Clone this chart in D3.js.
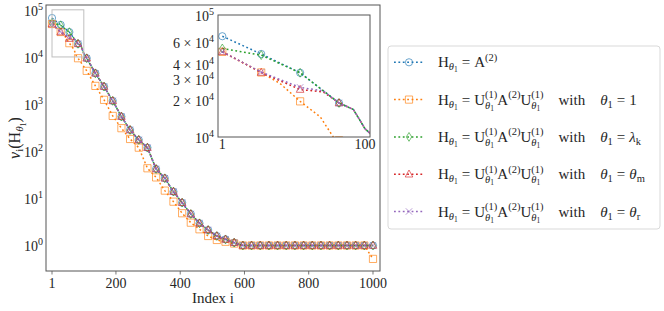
<!DOCTYPE html>
<html>
<head>
<meta charset="utf-8">
<script src="https://cdn.jsdelivr.net/npm/d3@7"></script>
<style>
  html, body { margin: 0; padding: 0; background: #fff; }
  svg text { font-family: "Liberation Serif", "DejaVu Serif", serif; fill: #262626; }
</style>
</head>
<body>
<svg id="chart" width="664" height="311"></svg>
<script>
// marker positions (every 27th index)
const markIdx = [1, 28, 55, 82, 109, 136, 163, 190, 217, 244, 271, 298, 325, 352, 379, 406, 433, 460, 487,
                 514, 541, 568, 595, 622, 649, 676, 703, 730, 757, 784, 811, 838, 865, 892, 919, 946, 973, 1000];

// values read at the marker positions
const blueVals   = [6.7e4, 4.79e4, 3.36e4, 1.9e4, 9.4e3, 4.5e3, 2.35e3, 1170, 543, 283, 174, 119, 42, 26.7, 13.9, 8.1, 4.66, 2.96, 2.13, 1.59, 1.35, 1.15,
                    1, 1, 1, 1, 1, 1, 1, 1, 1, 1, 1, 1, 1, 1, 1, 1];
const orangeVals = [4.99e4, 3.38e4, 1.96e4, 9.4e3, 5.07e3, 2.43e3, 1230, 561, 308, 182, 119, 43.5, 27.8, 14.6, 8.5, 4.83, 3.05, 2.21, 1.59, 1.31, 1.2, 1.1,
                    1, 1, 1, 1, 1, 1, 1, 1, 1, 1, 1, 1, 1, 1, 1, 0.52];
const greenVals  = [5.32e4, 4.69e4, 3.36e4, 1.9e4, 9.4e3, 4.5e3, 2.35e3, 1170, 543, 283, 174, 119, 42, 26.7, 13.9, 8.1, 4.66, 2.96, 2.13, 1.59, 1.35, 1.15,
                    1, 1, 1, 1, 1, 1, 1, 1, 1, 1, 1, 1, 1, 1, 1, 1];
const redVals    = [4.99e4, 3.38e4, 2.45e4, 1.9e4, 9.4e3, 4.5e3, 2.35e3, 1170, 543, 283, 174, 119, 42, 26.7, 13.9, 8.1, 4.66, 2.96, 2.13, 1.59, 1.35, 1.15,
                    1, 1, 1, 1, 1, 1, 1, 1, 1, 1, 1, 1, 1, 1, 1, 1];
const purpleVals = [5.0e4, 3.4e4, 2.55e4, 1.9e4, 9.4e3, 4.5e3, 2.35e3, 1170, 543, 283, 174, 119, 42, 26.7, 13.9, 8.1, 4.66, 2.96, 2.13, 1.59, 1.35, 1.15,
                    1, 1, 1, 1, 1, 1, 1, 1, 1, 1, 1, 1, 1, 1, 1, 1];

// extra line points between markers (seen in the zoomed inset)
const blueExtra   = [[92, 1.68e4], [100, 1.17e4]];
const orangeExtra = [[41, 2.75e4], [69, 1.46e4], [78, 1.0e4]];
const greenExtra  = [[92, 1.68e4], [100, 1.17e4]];
const redExtra    = [[71, 2.34e4], [92, 1.68e4], [100, 1.17e4]];
const purpleExtra = [[71, 2.39e4], [92, 1.68e4], [100, 1.17e4]];

const xTicks = [1, 200, 400, 600, 800, 1000];
const yTickExp = [0, 1, 2, 3, 4, 5];
const insetYTicks = [[1e5, "", "5"], [6e4, "6 × ", "4"], [4e4, "4 × ", "4"], [3e4, "3 × ", "4"], [2e4, "2 × ", "4"], [1e4, "", "4"]];
const insetXTicks = [1, 100];

const colors = ["#1f77b4", "#ff7f0e", "#2ca02c", "#d62728", "#9467bd"];

const series = [
    { vals: blueVals,   extra: blueExtra,   shape: "circle" },
    { vals: orangeVals, extra: orangeExtra, shape: "square" },
    { vals: greenVals,  extra: greenExtra,  shape: "thin_diamond" },
    { vals: redVals,    extra: redExtra,    shape: "triangle" },
    { vals: purpleVals, extra: purpleExtra, shape: "x" },
].map((s, i) => {
    const marks = markIdx.map((d, j) => [d, s.vals[j]]);
    const line = marks.concat(s.extra).sort((a, b) => a[0] - b[0]);
    return { ...s, color: colors[i], marks, line };
});

const svg = d3.select("#chart");
const FS = 14;

// rich text from pieces: sub/superscripts with stacking
function rich(g, x, y, parts, fs) {
    let cx = x, maxX = x, mark = x;
    parts.forEach((p) => {
        if (p.mark) mark = cx;
        if (p.back) cx = mark;
        if (p.sync) cx = maxX;
        if (p.gap) { cx += p.gap; maxX = Math.max(maxX, cx); }
        if (!p.t) return;
        const t = g.append("text")
            .attr("x", cx)
            .attr("y", y + (p.b || 0))
            .attr("font-size", p.s || fs)
            .attr("font-style", p.i ? "italic" : null)
            .text(p.t);
        cx += t.node().getComputedTextLength();
        maxX = Math.max(maxX, cx);
    });
    return maxX;
}

function markerPath(shape) {
    const p = d3.path();
    if (shape === "circle") { p.moveTo(3.6, 0); p.arc(0, 0, 3.6, 0, 2 * Math.PI); }
    else if (shape === "square") { p.rect(-3.6, -3.6, 7.2, 7.2); }
    else if (shape === "thin_diamond") { p.moveTo(0, -4.4); p.lineTo(2.7, 0); p.lineTo(0, 4.4); p.lineTo(-2.7, 0); p.closePath(); }
    else if (shape === "triangle") { p.moveTo(0, -4.2); p.lineTo(3.8, 2.8); p.lineTo(-3.8, 2.8); p.closePath(); }
    else { p.moveTo(-3.2, -3.2); p.lineTo(3.2, 3.2); p.moveTo(-3.2, 3.2); p.lineTo(3.2, -3.2); }
    return p.toString();
}

function drawSeries(g, x, y) {
    series.forEach((s) => {
        g.append("path")
            .datum(s.line)
            .attr("fill", "none")
            .attr("stroke", s.color)
            .attr("stroke-width", 1.5)
            .attr("stroke-dasharray", "1.8,2.6")
            .attr("d", d3.line().x((d) => x(d[0])).y((d) => y(d[1])));
        g.selectAll(null)
            .data(s.marks)
            .join("path")
            .attr("transform", (d) => `translate(${x(d[0])},${y(d[1])})`)
            .attr("d", markerPath(s.shape))
            .attr("fill", "none")
            .attr("stroke", s.color)
            .attr("stroke-width", 1)
            .attr("opacity", 0.65);
    });
}

/* ============================================================
   MAIN AXES
============================================================ */

const L = 46, R = 380, T = 5, B = 271;
const x = d3.scaleLinear().domain([-17.7, 1021.8]).range([L, R]);
const y = d3.scaleLog().domain([Math.pow(10, -0.541), Math.pow(10, 5.102)]).range([B, T]);

svg.append("clipPath").attr("id", "clipMain")
    .append("rect").attr("x", L).attr("y", T).attr("width", R - L).attr("height", B - T);

const gMain = svg.append("g").attr("clip-path", "url(#clipMain)");
drawSeries(gMain, x, y);

// zoom indicator rectangle
svg.append("rect")
    .attr("x", x(1)).attr("y", y(1e5))
    .attr("width", x(100) - x(1)).attr("height", y(1e4) - y(1e5))
    .attr("fill", "none").attr("stroke", "#bfbfbf").attr("stroke-width", 1);

svg.append("rect")
    .attr("x", L).attr("y", T).attr("width", R - L).attr("height", B - T)
    .attr("fill", "none").attr("stroke", "#555").attr("stroke-width", 1);

xTicks.forEach((t) => {
    svg.append("line").attr("x1", x(t)).attr("x2", x(t)).attr("y1", B).attr("y2", B + 3.5)
        .attr("stroke", "#555").attr("stroke-width", 0.8);
    svg.append("text").attr("x", x(t)).attr("y", B + 16.5).attr("text-anchor", "middle")
        .attr("font-size", FS).text(t);
});

yTickExp.forEach((e) => {
    const t = svg.append("text").attr("x", L - 3).attr("y", y(Math.pow(10, e)) + 6)
        .attr("text-anchor", "end").attr("font-size", FS);
    t.append("tspan").text("10");
    t.append("tspan").attr("dy", -6).attr("font-size", 10).text(e);
});

// axis labels
svg.append("text").attr("x", (L + R) / 2).attr("y", 303).attr("text-anchor", "middle")
    .attr("font-size", 15).text("Index i");

const gyl = svg.append("g");
const gyIn = gyl.append("g");
const yw = rich(gyIn, 0, 0, [
    { t: "ν", i: true }, { t: "i", s: 11, b: 3 }, { t: "(H" },
    { t: "θ", s: 11, b: 3, i: true }, { t: "1", s: 8, b: 5.5 }, { t: ")" },
], 16);
gyIn.attr("transform", `translate(${-yw / 2},0)`);
gyl.attr("transform", `translate(20,${(T + B) / 2}) rotate(-90)`);

/* ============================================================
   INSET
============================================================ */

const iL = 218, iR = 370, iT = 15, iB = 137;
const xi = d3.scaleLinear().domain([-2, 103.5]).range([iL, iR]);
const yi = d3.scaleLog().domain([1e4, 1e5]).range([iB, iT]);

svg.append("rect").attr("x", iL).attr("y", iT).attr("width", iR - iL).attr("height", iB - iT)
    .attr("fill", "#fff");
svg.append("clipPath").attr("id", "clipInset")
    .append("rect").attr("x", iL).attr("y", iT).attr("width", iR - iL).attr("height", iB - iT);
const gInset = svg.append("g").attr("clip-path", "url(#clipInset)");
drawSeries(gInset, xi, yi);
svg.append("rect").attr("x", iL).attr("y", iT).attr("width", iR - iL).attr("height", iB - iT)
    .attr("fill", "none").attr("stroke", "#555").attr("stroke-width", 1);

insetXTicks.forEach((t) => {
    svg.append("text").attr("x", xi(t)).attr("y", iB + 12).attr("text-anchor", "middle")
        .attr("font-size", FS).text(t);
});
insetYTicks.forEach(([v, pre, ex]) => {
    const t = svg.append("text").attr("x", iL - 4).attr("y", yi(v) + 6)
        .attr("text-anchor", "end").attr("font-size", FS);
    t.append("tspan").text(pre + "10");
    t.append("tspan").attr("dy", -6).attr("font-size", 10).text(ex);
});

/* ============================================================
   LEGEND
============================================================ */

const lgX = 388, lgY = 46, lgW = 272, lgH = 183;
svg.append("rect").attr("x", lgX).attr("y", lgY).attr("width", lgW).attr("height", lgH)
    .attr("rx", 3).attr("fill", "#fff").attr("fill-opacity", 0.8)
    .attr("stroke", "#d9d9d9").attr("stroke-width", 1);

const LFS = 15;
const eq = [{ gap: 4 }, { t: "=" }, { gap: 4 }];
const Hpart = [{ t: "H" }, { t: "θ", s: 10.5, b: 3, i: true }, { t: "1", s: 7.5, b: 5 }].concat(eq);
const Upart = [{ t: "U" }, { t: "(1)", s: 10.5, b: -6.5, mark: true },
               { t: "θ", s: 10.5, b: 4, i: true, back: true }, { t: "1", s: 7.5, b: 6 }, { sync: true }];
const Apart = [{ t: "A" }, { t: "(2)", s: 10.5, b: -6.5 }];
const theta1 = [{ t: "θ", i: true }, { t: "1", s: 10.5, b: 3 }].concat(eq);

const rhsParts = [
    null,
    [{ t: "1" }],
    [{ t: "λ", i: true }, { t: "k", s: 10.5, b: 3 }],
    [{ t: "θ", i: true }, { t: "m", s: 10.5, b: 3 }],
    [{ t: "θ", i: true }, { t: "r", s: 10.5, b: 3 }],
];

const rowY = [62.3, 99.6, 136.9, 174.2, 211.5];

series.forEach((s, k) => {
    const cy = rowY[k];
    const g = svg.append("g");
    g.append("line").attr("x1", 394).attr("x2", 424).attr("y1", cy).attr("y2", cy)
        .attr("stroke", s.color).attr("stroke-width", 1.5).attr("stroke-dasharray", "1.8,2.6");
    g.append("path").attr("transform", `translate(409,${cy})`).attr("d", markerPath(s.shape))
        .attr("fill", "none").attr("stroke", s.color).attr("stroke-width", 1).attr("opacity", 0.65);

    const parts = k === 0
        ? Hpart.concat(Apart)
        : Hpart.concat(Upart, Apart, Upart,
            [{ gap: 15 }, { t: "with" }, { gap: 15 }], theta1, rhsParts[k]);
    rich(g, 438, cy + 5, parts, LFS);
});
</script>
</body>
</html>
